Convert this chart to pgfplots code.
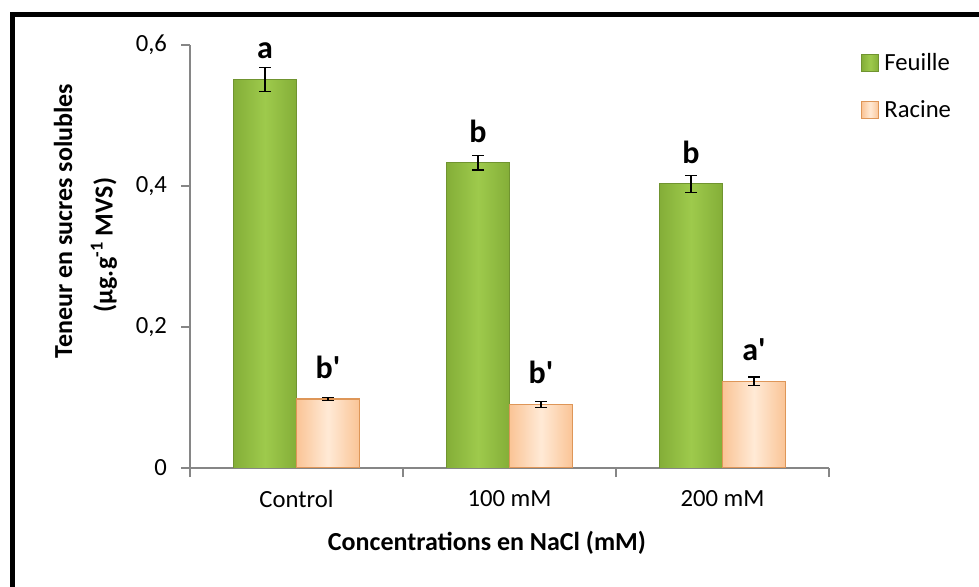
\documentclass[border=0pt]{standalone}
\usepackage{pgfplots}
\pgfplotsset{compat=1.18}
\usepackage{fontspec}
\setmainfont{Carlito}
\definecolor{gdark}{RGB}{132,174,56}
\definecolor{glight}{RGB}{158,202,76}
\definecolor{pdark}{RGB}{250,196,150}
\definecolor{plight}{RGB}{255,234,214}
\definecolor{pborder}{RGB}{222,150,88}
\definecolor{axgray}{RGB}{134,134,134}
\pgfplotsset{
  feuille/.style={bar shift=-23.625pt, draw=gdark!85!black, line width=0.6pt, left color=gdark, right color=gdark, middle color=glight},
  racine/.style={bar shift=23.625pt, draw=pborder, line width=1pt, left color=pdark, right color=pdark, middle color=plight},
}
\begin{document}
\begin{tikzpicture}[x=0.75pt,y=0.75pt]
\useasboundingbox (0,0) rectangle (979,586);
\begin{scope}
\clip (0,0) rectangle (979,586);
\draw[line width=3.75pt] (12.5,-5) -- (12.5,571.5) -- (990,571.5);
\end{scope}
\begin{axis}[
  at={(142.5pt,88.5pt)}, anchor=south west,
  scale only axis, width=479.25pt, height=317.25pt,
  ybar, bar width=47.25pt,
  xmin=-0.5, xmax=2.5, ymin=0, ymax=0.6,
  axis lines*=left,
  axis line style={axgray, line width=1.2pt},
  tick align=outside,
  tick style={axgray, line width=1.2pt},
  major tick length=6.75pt,
  ytick={0,0.2,0.4,0.6},
  yticklabel style={xshift=-7pt, /pgf/number format/.cd, use comma, fixed, precision=1, assume math mode=true},
  xtick={-0.5,0.5,1.5,2.5}, xticklabels={},
  extra x ticks={0,1,2},
  extra x tick labels={Control,100 mM,200 mM},
  extra x tick style={major tick length=0pt, tick label style={yshift=-13pt}},
  ticklabel style={font=\fontsize{18.5}{20}\selectfont, text=black},
  legend style={at={(axis description cs:1,1)}, anchor=north west, xshift=24pt, yshift=-4pt,
    draw=none, fill=none, font=\fontsize{18.5}{20}\selectfont, row sep=17pt, inner sep=0pt,
    nodes={inner xsep=4pt}},
  legend cell align=left,
  legend image code/.code={\draw[#1, line width=0.6pt] (0pt,-6.4pt) rectangle (12.8pt,6.4pt);},
  nodes near coords,
  point meta=explicit symbolic,
  every node near coord/.append style={font=\bfseries\fontsize{24}{26}\selectfont, anchor=south, inner sep=0pt, yshift=15pt, text=black},
  error bars/y dir=both, error bars/y explicit,
  error bars/error bar style={black, line width=1.1pt},
  error bars/error mark options={black, rotate=90, mark size=4.5pt, line width=1.1pt},
]
% Feuille
\addplot[feuille] table[x=x, y=y, y error=e, meta=l] {
x y e l
0 0.551 0.017 a
};
\addplot[feuille, forget plot] table[x=x, y=y, y error=e, meta=l] {
x y e l
1 0.433 0.010 b
};
\addplot[feuille, forget plot] table[x=x, y=y, y error=e, meta=l] {
x y e l
2 0.403 0.012 b
};
% Racine
\addplot[racine] table[x=x, y=y, y error=e, meta=l] {
x y e l
0 0.098 0.002 b\textquotesingle
};
\addplot[racine, forget plot] table[x=x, y=y, y error=e, meta=l] {
x y e l
1 0.090 0.004 b\textquotesingle
};
\addplot[racine, forget plot] table[x=x, y=y, y error=e, meta=l] {
x y e l
2 0.123 0.006 a\textquotesingle
};
\legend{Feuille,Racine}
\end{axis}
\node[rotate=90, font=\bfseries\fontsize{19.5}{21}\selectfont] at (63,365) {Teneur en sucres solubles};
\node[rotate=90, font=\bfseries\fontsize{19.5}{21}\selectfont] at (104,341) {(µg.g\textsuperscript{-1} MVS)};
\node[font=\bfseries\fontsize{19.5}{21}\selectfont] at (487,43) {Concentrations en NaCl (mM)};
\end{tikzpicture}
\end{document}
